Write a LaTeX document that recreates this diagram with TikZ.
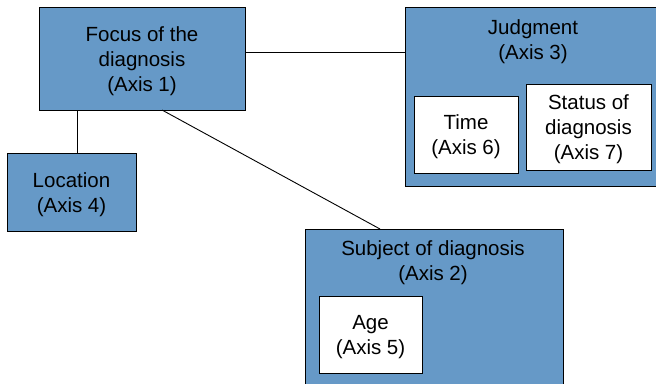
\documentclass[tikz,border=0pt]{standalone}
\usepackage{fontspec}
\setmainfont{Liberation Sans}
\definecolor{boxblue}{RGB}{102,153,199}
\begin{document}
\begin{tikzpicture}[x=1pt,y=-1pt,
  bluebox/.style={draw=black,line width=1pt,fill=boxblue,inner sep=0pt,outer sep=0pt,anchor=north west},
  whitebox/.style={draw=black,line width=1pt,fill=white,inner sep=0pt,outer sep=0pt,anchor=north west},
  lbl/.style={align=center,font=\fontsize{20.5}{25}\selectfont,inner sep=0pt},
  conn/.style={draw=black,line width=0.9pt}]
\useasboundingbox (0,0) rectangle (656,383);
\clip (0,0) rectangle (656,383);
% boxes
\node[bluebox,minimum width=206pt,minimum height=103pt] (focus) at (39,7) {};
\node[lbl,yshift=-2.5pt] (focust) at (focus.center) {Focus of the\\diagnosis\\(Axis 1)};
\node[bluebox,minimum width=129pt,minimum height=78pt] (loc) at (7,153) {};
\node[lbl,yshift=-2.5pt] (loct) at (loc.center) {Location\\(Axis 4)};
\node[bluebox,minimum width=262pt,minimum height=179pt] (judg) at (405,7) {};
\node[lbl] (judgt) at (533,42) {Judgment\\(Axis 3)};
\node[whitebox,minimum width=104pt,minimum height=77pt] (time) at (414,96) {};
\node[lbl,yshift=-2.5pt] (timet) at (time.center) {Time\\(Axis 6)};
\node[whitebox,minimum width=125pt,minimum height=86pt] (status) at (526,84) {};
\node[lbl,yshift=-2.5pt] (statust) at (status.center) {Status of\\diagnosis\\(Axis 7)};
\node[bluebox,minimum width=258pt,minimum height=170pt] (subj) at (305,229) {};
\node[lbl] (subjt) at (433,263) {Subject of diagnosis\\(Axis 2)};
\node[whitebox,minimum width=103pt,minimum height=77pt] (age) at (319,296) {};
\node[lbl,yshift=-2.5pt] (aget) at (age.center) {Age\\(Axis 5)};
% connectors
\draw[conn] ([yshift=-45pt]focus.north east) -- ([yshift=-45pt]focus.north east -| judg.west);
\draw[conn] ([xshift=38pt]focus.south west) -- ([xshift=38pt]focus.south west |- loc.north);
\draw[conn] ([xshift=123pt]focus.south west) -- ([xshift=75pt]subj.north west);
\end{tikzpicture}
\end{document}
